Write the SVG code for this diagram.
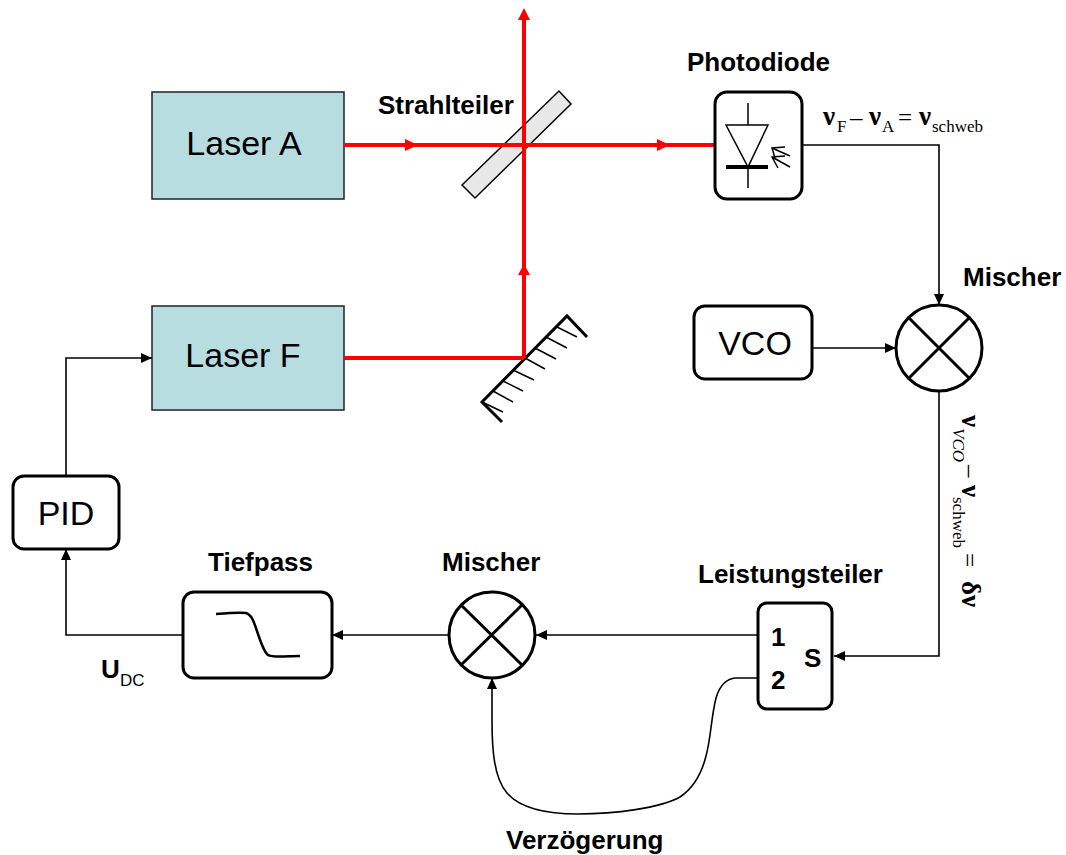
<svg xmlns="http://www.w3.org/2000/svg" width="1066" height="855" viewBox="0 0 1066 855">
<style>
text{font-family:"Liberation Sans",Arial,sans-serif;fill:#000}
.b{font-weight:bold;font-size:26px}
.n{font-size:34px;text-anchor:middle}
.s{font-family:"Liberation Serif","Times New Roman",serif;font-size:17px}
.o{font-family:"Liberation Serif","Times New Roman",serif;font-size:25px}
.sb{font-family:"Liberation Serif","Times New Roman",serif;font-size:27px;font-weight:bold}
.box{fill:#fff;stroke:#000;stroke-width:3}
.laser{fill:#b7dde0;stroke:#222;stroke-width:1.5}
.l{fill:none;stroke:#000;stroke-width:1.6}
.r{fill:none;stroke:#f00;stroke-width:4}
.t{stroke:#000;stroke-width:3;fill:none}
.h{stroke:#000;stroke-width:1.5;fill:none}
</style>
<defs>
<marker id="a" markerUnits="userSpaceOnUse" markerWidth="12" markerHeight="12" refX="11" refY="6" orient="auto"><path d="M0 1L11 6L0 11Z" fill="#000"/></marker>
</defs>
<g id="laser-a"><rect class="laser" x="152" y="92" width="192" height="107"/><text class="n" x="244" y="155">Laser A</text></g>
<g id="laser-f"><rect class="laser" x="152" y="306" width="192" height="104"/><text class="n" x="243" y="367">Laser F</text></g>
<g id="strahlteiler">
<path d="M462 185L559 91L571 104L475 198Z" fill="#e8e8e8" stroke="#000" stroke-width="1.500"/>
<text class="b" x="378" y="114">Strahlteiler</text>
</g>
<g id="spiegel">
<path class="t" d="M502 422L482 402L567 316L587 337"/>
<path class="h" d="M482 402L503 412M493 391L513 402M503 381L523 391M513 370L534 380M525 358L545 369M535 348L556 359M546 337L567 348M557 327L577 337"/>
</g>
<g id="connectors">
<path class="r" d="M344 145H715"/>
<path class="r" d="M344 358H524"/>
<path class="r" d="M524 358V14"/>
<path d="M524 8L518 20H530Z" fill="#f00"/>
<path d="M524 264L518 275H530Z" fill="#f00"/>
<path d="M418 145L405 139V151Z" fill="#f00"/>
<path d="M670 145L657 139V151Z" fill="#f00"/>
<path class="l" d="M802 145H939V305" marker-end="url(#a)"/>
<path class="l" d="M812 348H896" marker-end="url(#a)"/>
<path class="l" d="M939 392V656H834" marker-end="url(#a)"/>
<path class="l" d="M757 635H536" marker-end="url(#a)"/>
<path class="l" d="M449 635H332" marker-end="url(#a)"/>
<path class="l" d="M183 635H66V549" marker-end="url(#a)"/>
<path class="l" d="M66 476V358H152" marker-end="url(#a)"/>
<path class="l" d="M757 678H737C725 678 719 688 716 698C711 718 711 738 706 756C702 772 695 787 680 797C660 808 615 814 578 814C545 814 520 808 507 793C494 778 492 750 492 720C492 705 492 692 492 678" marker-end="url(#a)"/>
</g>
<g id="photodiode">
<rect class="box" x="715" y="92" width="87" height="107" rx="12"/>
<path class="h" d="M748 103V125M726 125H768L748 167ZM748 167V188"/>
<path d="M726 167H768" stroke="#000" stroke-width="4"/>
<path class="h" d="M790 156L772 148M785 147L772 148L775 158M790 167L772 157M785 156L772 157L778 168"/>
<text class="b" x="687" y="71">Photodiode</text>
<text class="sb" x="823" y="125">ν</text><text class="s" x="837" y="132">F</text><text class="o" x="850" y="126">–</text>
<text class="sb" x="869" y="125">ν</text><text class="s" x="882" y="132">A</text><text class="o" x="898" y="126">=</text>
<text class="sb" x="919" y="125">ν</text><text class="s" x="932" y="132">schweb</text>
</g>
<g id="vco"><rect class="box" x="694" y="306" width="118" height="73" rx="11"/><text class="n" x="755" y="355">VCO</text></g>
<g id="mischer-1">
<circle class="box" cx="939" cy="348" r="43"/>
<path class="t" d="M908.500 317.500L969.500 378.500M969.500 317.500L908.500 378.500"/>
<text class="b" x="963" y="286">Mischer</text>
</g>
<g id="formel" transform="translate(962 0) rotate(90)">
<text class="sb" x="415" y="0">ν</text><text class="s" font-style="italic" x="428" y="9">VCO</text><text class="o" x="465" y="0">–</text>
<text class="sb" x="485" y="0">ν</text><text class="s" x="497" y="9">schweb</text><text class="o" x="553" y="1">=</text>
<text class="sb" x="581" y="0">δν</text>
</g>
<g id="leistungsteiler">
<rect class="box" x="758" y="603" width="74" height="106" rx="9"/>
<text class="b" x="771" y="646">1</text><text class="b" x="771" y="689">2</text><text class="b" x="804" y="667" font-size="27">S</text>
<text class="b" x="698" y="583">Leistungsteiler</text>
</g>
<g id="mischer-2">
<circle class="box" cx="492" cy="635" r="43"/>
<path class="t" d="M461 605L522 665M522 605L461 665"/>
<text class="b" x="442" y="571">Mischer</text>
</g>
<g id="tiefpass">
<rect class="box" x="183" y="592" width="149" height="86" rx="11"/>
<path d="M216 614C228 613 240 612 246 613C252 615 254 622 258 634C261 643 264 652 268 655C272 658 288 656 300 656" fill="none" stroke="#000" stroke-width="2.500"/>
<text class="b" x="208" y="571">Tiefpass</text>
</g>
<g id="pid"><rect class="box" x="13" y="476" width="106" height="73" rx="11"/><text class="n" x="66" y="525">PID</text></g>
<text x="101" y="678" font-weight="bold" font-size="26">U</text><text x="120" y="686" font-size="17">DC</text>
<text class="b" x="506" y="849">Verzögerung</text>
</svg>
